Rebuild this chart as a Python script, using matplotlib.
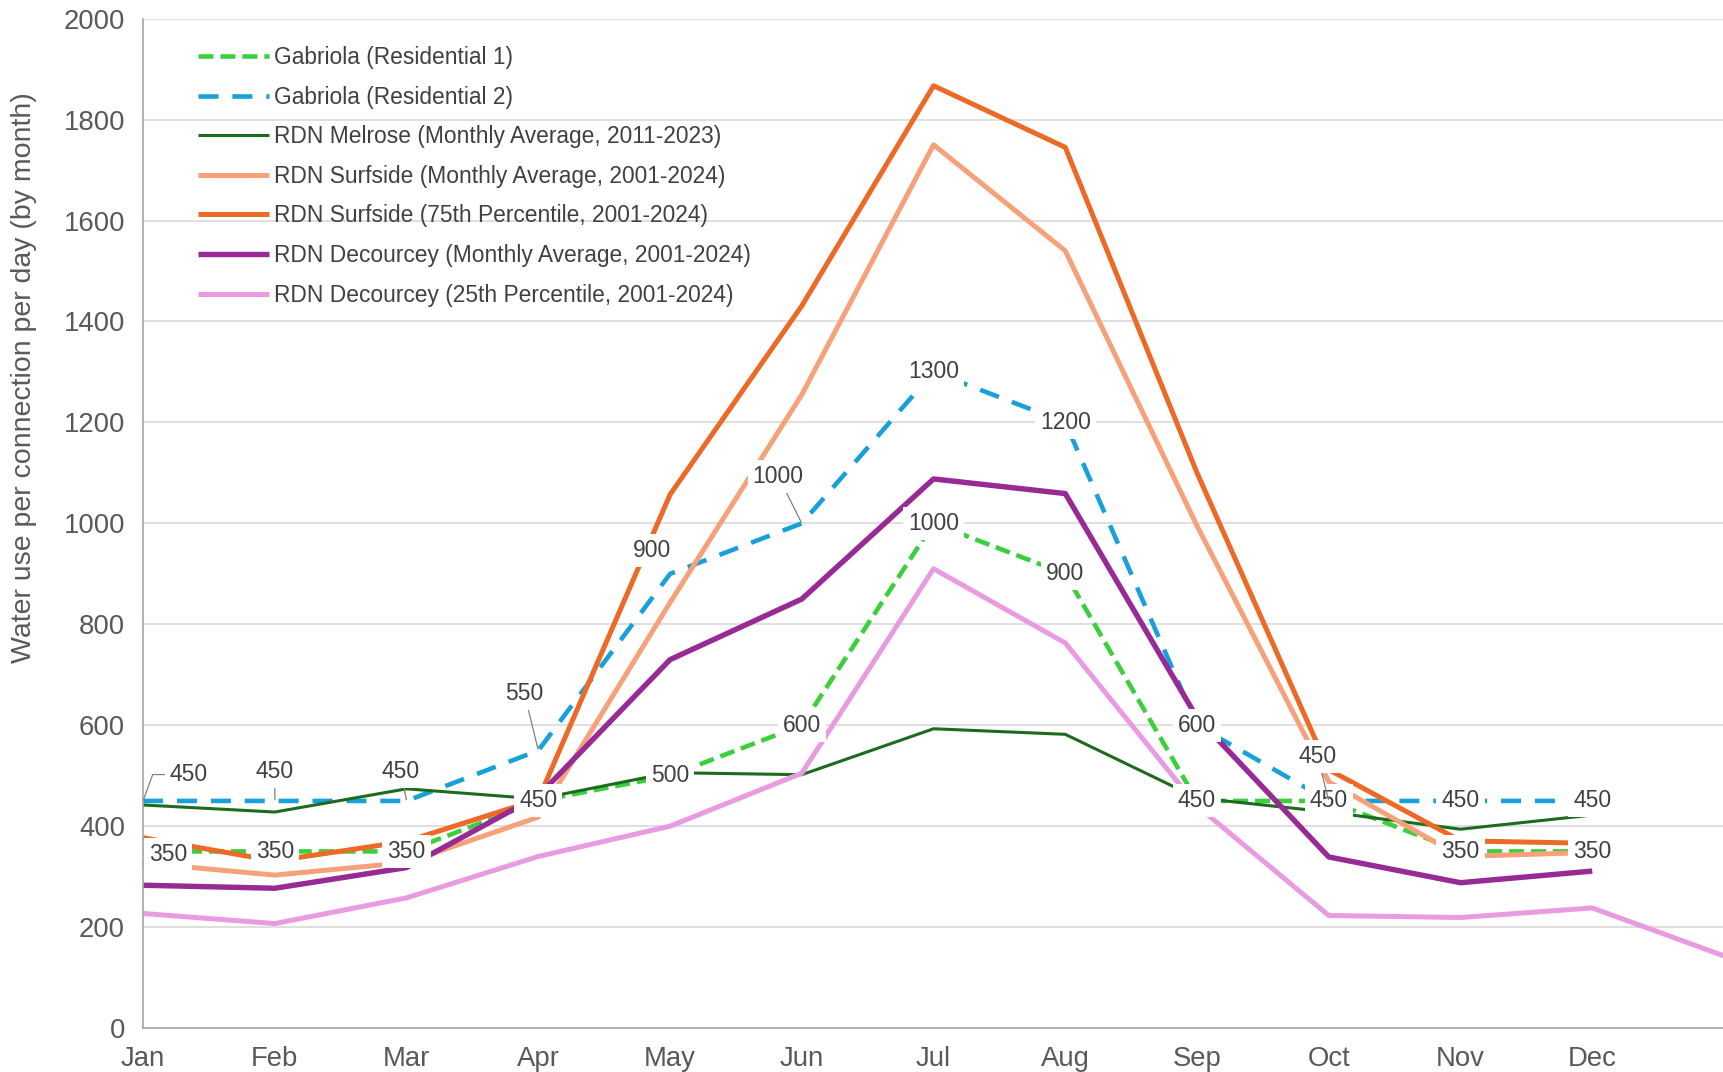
import numpy as np
import matplotlib
matplotlib.use('Agg')
import matplotlib.pyplot as plt

plt.rcParams['font.family'] = ['Liberation Sans', 'DejaVu Sans']
plt.rcParams['lines.scale_dashes'] = False

months = ['Jan', 'Feb', 'Mar', 'Apr', 'May', 'Jun', 'Jul', 'Aug', 'Sep', 'Oct', 'Nov', 'Dec']

gab_res1 = [350, 350, 350, 450, 500, 600, 1000, 900, 450, 450, 350, 350]
gab_res2 = [450, 450, 450, 550, 900, 1000, 1300, 1200, 600, 450, 450, 450]
melrose_avg = [442, 428, 474, 454, 506, 502, 593, 582, 456, 428, 394, 422]
surfside_avg = [327, 303, 328, 418, 843, 1255, 1750, 1540, 995, 488, 340, 348]
surfside_p75 = [377, 331, 370, 453, 1057, 1431, 1867, 1745, 1100, 512, 371, 366]
decourcey_avg = [283, 277, 318, 460, 730, 850, 1088, 1059, 615, 339, 288, 311]
decourcey_p25 = [227, 207, 258, 340, 400, 505, 910, 763, 440, 223, 219, 238, 143]

series = [
    ('Gabriola (Residential 1)', gab_res1, '#3ccf3c', 3.3, (10.8, 5.0)),
    ('Gabriola (Residential 2)', gab_res2, '#18a0da', 3.3, (14.4, 10.0)),
    ('RDN Melrose (Monthly Average, 2011-2023)', melrose_avg, '#1d6b1d', 2.2, None),
    ('RDN Surfside (Monthly Average, 2001-2024)', surfside_avg, '#f5a27a', 3.6, None),
    ('RDN Surfside (75th Percentile, 2001-2024)', surfside_p75, '#ec6a25', 3.6, None),
    ('RDN Decourcey (Monthly Average, 2001-2024)', decourcey_avg, '#982a96', 3.9, None),
    ('RDN Decourcey (25th Percentile, 2001-2024)', decourcey_p25, '#e89be0', 3.6, None),
]

# label offsets (points) for Residential 2; (0, 0) means centred on the point
res2_offsets = [(33, 19), (0, 21), (-4, 21), (-10, 41), (-13, 17), (-17, 34),
                (0, 0), (0, 0), (0, 0), (-8, 32), (0, 0), (0, 0)]
res2_leader = [True, True, True, True, False, True,
               False, False, False, True, False, False]
res1_offsets = [(18, -2)] + [(0, 0)] * 11

fig = plt.figure(figsize=(17.24, 10.72), dpi=100)
ax = fig.add_axes([0.083, 0.041, 0.917, 0.9416])

for name, vals, col, lw, dash in series:
    x = np.arange(len(vals))
    line, = ax.plot(x, vals, color=col, lw=lw, label=name, solid_capstyle='butt')
    if dash is not None:
        line.set_dashes(dash)

label_kw = dict(fontsize=16.5, color='#404040', ha='center', va='center',
                bbox=dict(boxstyle='square,pad=0.22', fc='white', ec='none'), zorder=10)

for i, v in enumerate(gab_res1):
    dx, dy = res1_offsets[i]
    ax.annotate(str(v), xy=(i, v), xytext=(dx, dy), textcoords='offset points', **label_kw)

for i, v in enumerate(gab_res2):
    dx, dy = res2_offsets[i]
    if res2_leader[i]:
        if i == 0:
            cs = 'angle,angleA=0,angleB=70,rad=0'
        else:
            cs = 'arc3'
        ap = dict(arrowstyle='-', color='#808080', lw=0.9, connectionstyle=cs,
                  shrinkA=0, shrinkB=1)
        ax.annotate(str(v), xy=(i, v), xytext=(dx, dy), textcoords='offset points',
                    arrowprops=ap, **label_kw)
    else:
        ax.annotate(str(v), xy=(i, v), xytext=(dx, dy), textcoords='offset points', **label_kw)

ax.set_xlim(0, 12)
ax.set_ylim(0, 2000)
ax.set_xticks(range(12))
ax.set_xticklabels(months)
ax.set_yticks(range(0, 2001, 200))
ax.tick_params(length=0, pad=13, labelsize=19.8, colors='#595959')
ax.grid(axis='y', color='#d9d9d9', lw=1.2)
ax.set_axisbelow(True)
for s in ['right', 'top']:
    ax.spines[s].set_visible(False)
for s in ['left', 'bottom']:
    ax.spines[s].set_color('#a6a6a6')
    ax.spines[s].set_linewidth(1.2)

ax.set_ylabel('Water use per connection per day (by month)', fontsize=20.5, color='#595959')
ax.yaxis.set_label_coords(-0.067, 0.644)

ax.legend(loc='upper left', bbox_to_anchor=(0.035, 0.973), frameon=False, fontsize=16.4,
          handlelength=3.1, handletextpad=0.2, labelspacing=0.73, borderaxespad=0,
          borderpad=0, labelcolor='#404040')

fig.savefig('out.png', dpi=100)
